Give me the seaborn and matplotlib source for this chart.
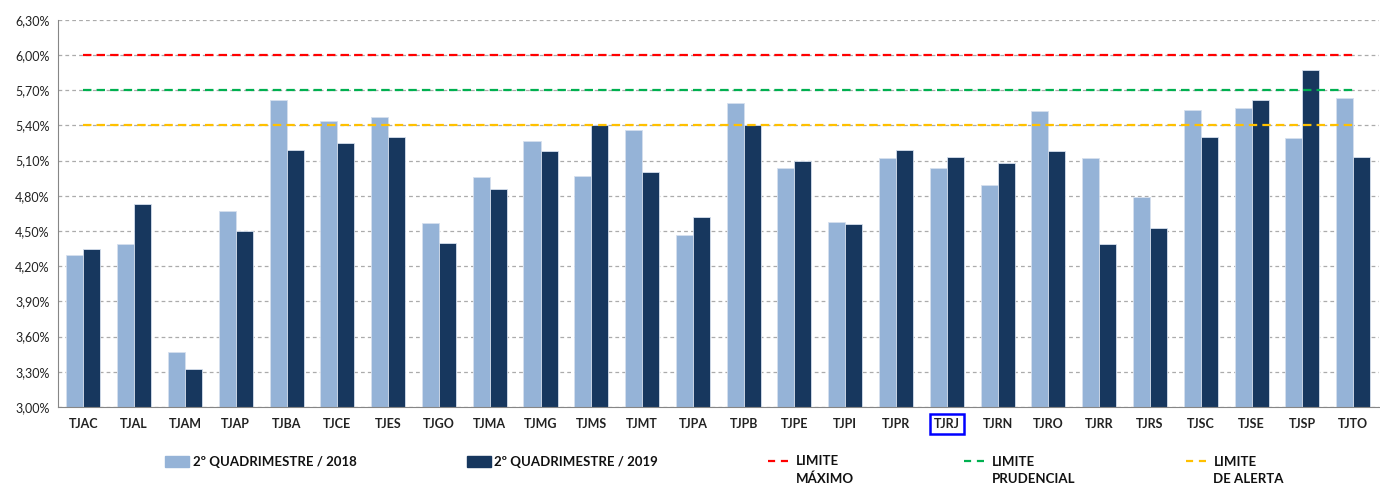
import numpy as np
import pandas as pd
import matplotlib
matplotlib.use("Agg")
import matplotlib.pyplot as plt
import seaborn as sns
from matplotlib.ticker import FuncFormatter
from matplotlib.patches import Patch

# data (percent)
tribunais = ["TJAC", "TJAL", "TJAM", "TJAP", "TJBA", "TJCE", "TJES", "TJGO", "TJMA",
             "TJMG", "TJMS", "TJMT", "TJPA", "TJPB", "TJPE", "TJPI", "TJPR", "TJRJ",
             "TJRN", "TJRO", "TJRR", "TJRS", "TJSC", "TJSE", "TJSP", "TJTO"]
q2_2018 = [4.30, 4.39, 3.47, 4.67, 5.62, 5.44, 5.47, 4.57, 4.96,
           5.27, 4.97, 5.36, 4.47, 5.59, 5.04, 4.58, 5.12, 5.04,
           4.89, 5.52, 5.12, 4.79, 5.53, 5.55, 5.29, 5.63]
q2_2019 = [4.35, 4.73, 3.32, 4.50, 5.19, 5.25, 5.30, 4.40, 4.86,
           5.18, 5.40, 5.00, 4.62, 5.40, 5.10, 4.56, 5.19, 5.13,
           5.08, 5.18, 4.39, 4.53, 5.30, 5.62, 5.87, 5.13]
limite_maximo = 6.00
limite_prudencial = 5.70
limite_alerta = 5.40

serie_labels = ["2º QUADRIMESTRE / 2018", "2º QUADRIMESTRE / 2019"]
limite_labels = ["LIMITE\nMÁXIMO", "LIMITE\nPRUDENCIAL", "LIMITE\nDE ALERTA"]

df = pd.DataFrame({
    "tribunal": tribunais * 2,
    "valor": q2_2018 + q2_2019,
    "serie": [serie_labels[0]] * len(tribunais) + [serie_labels[1]] * len(tribunais),
})

sns.set_style("white")
plt.rcParams["font.family"] = ["Lato", "DejaVu Sans"]

fig = plt.figure(figsize=(13.8, 4.84), dpi=100)
ax = fig.add_axes([0.042, 0.159, 0.957, 0.8])

# dashed grid behind the bars
for v in np.arange(3.0, 6.31, 0.3):
    ax.axhline(v, color="#ABABAB", lw=0.9, ls=(0, (3, 2.5)), zorder=0)

sns.barplot(data=df, x="tribunal", y="valor", hue="serie",
            palette=["#95B3D7", "#17375E"], width=0.67, gap=0,
            saturation=1, ax=ax, legend=False, zorder=2,
            edgecolor="#D6E0EE", linewidth=0.6)

# limit lines, first to last category
x_pos = np.arange(len(tribunais))
dash = (0, (3.8, 2.3))
l1, = ax.plot(x_pos, [limite_maximo] * len(tribunais), color="#FF0000", lw=1.6, ls=dash, zorder=3)
l2, = ax.plot(x_pos, [limite_prudencial] * len(tribunais), color="#00B050", lw=1.6, ls=dash, zorder=3)
l3, = ax.plot(x_pos, [limite_alerta] * len(tribunais), color="#FFC000", lw=1.6, ls=dash, zorder=3)

ax.set_xlim(-0.5, len(tribunais) - 0.5)
ax.set_ylim(3.0, 6.3)
ax.set_yticks(np.arange(3.0, 6.31, 0.3))
ax.yaxis.set_major_formatter(FuncFormatter(lambda v, p: f"{v:.2f}%".replace(".", ",")))
ax.set_xlabel("")
ax.set_ylabel("")
ax.tick_params(axis="both", length=0, labelsize=9, colors="#222222")
ax.tick_params(axis="y", pad=6)
ax.tick_params(axis="x", pad=8)
for lbl in ax.get_xticklabels():
    lbl.set_fontweight("bold")
    if lbl.get_text() == "TJRJ":
        lbl.set_bbox(dict(facecolor="none", edgecolor="#0000FF", lw=1.8, pad=3))

for s in ["top", "right"]:
    ax.spines[s].set_visible(False)
ax.spines["left"].set_color("#868686")
ax.spines["bottom"].set_color("#868686")

# legend (all labels two lines, handles moved up to the first line)
handles = [Patch(color="#95B3D7"), Patch(color="#17375E"), l1, l2, l3]
labels = [s + "\n " for s in serie_labels] + limite_labels
leg = fig.legend(handles, labels, loc="lower left", bbox_to_anchor=(0.111, -0.027),
                 ncol=5, frameon=False, columnspacing=8.35,
                 handlelength=1.85, handleheight=0.9, handletextpad=0.25,
                 prop={"weight": "bold", "size": 9.5})
for t in leg.get_texts():
    t.set_linespacing(1.5)
    t.set_color("#111111")
dy = 7.0
for h in leg.legend_handles:
    if isinstance(h, matplotlib.lines.Line2D):
        y = np.asarray(h.get_ydata(), dtype=float)
        x = np.asarray(h.get_xdata(), dtype=float)
        h.set_ydata(y + dy)
        h.set_xdata(np.linspace(x.min(), x.min() + 0.82 * (x.max() - x.min()), len(x)))
        h.set_linestyle((0, (3.2, 2.6)))
    else:
        h.set_y(h.get_y() + dy)

fig.savefig("out.png", dpi=100)
